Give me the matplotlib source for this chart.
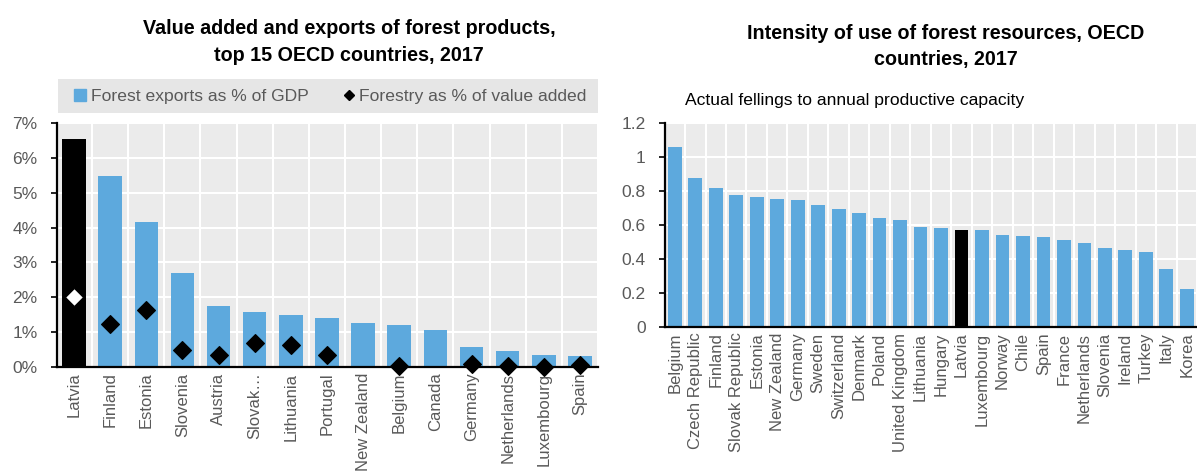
import matplotlib
matplotlib.use("Agg")
import matplotlib.pyplot as plt
from matplotlib.patches import Rectangle
from matplotlib.lines import Line2D
import numpy as np

# ---- data: value added and exports of forest products ----
left_countries = ["Latvia", "Finland", "Estonia", "Slovenia", "Austria", "Slovak\u2026",
                  "Lithuania", "Portugal", "New Zealand", "Belgium", "Canada",
                  "Germany", "Netherlands", "Luxembourg", "Spain"]
forest_exports_pct_gdp = [6.54, 5.47, 4.15, 2.71, 1.75, 1.59, 1.49, 1.42, 1.27,
                          1.20, 1.06, 0.57, 0.45, 0.35, 0.32]
forestry_pct_value_added = [2.02, 1.23, 1.63, 0.50, 0.34, 0.68, 0.62, 0.35, np.nan,
                            0.04, np.nan, 0.10, 0.02, 0.00, 0.05]

# ---- data: intensity of use of forest resources ----
right_countries = ["Belgium", "Czech Republic", "Finland", "Slovak Republic", "Estonia",
                   "New Zealand", "Germany", "Sweden", "Switzerland", "Denmark",
                   "Poland", "United Kingdom", "Lithuania", "Hungary", "Latvia",
                   "Luxembourg", "Norway", "Chile", "Spain", "France", "Netherlands",
                   "Slovenia", "Ireland", "Turkey", "Italy", "Korea"]
fellings_ratio = [1.057, 0.875, 0.816, 0.778, 0.763, 0.753, 0.749, 0.720, 0.694,
                  0.673, 0.643, 0.629, 0.590, 0.584, 0.573, 0.569, 0.539, 0.537,
                  0.529, 0.514, 0.496, 0.467, 0.455, 0.439, 0.343, 0.225]

highlight = "Latvia"

FONT = ["Liberation Sans Narrow", "Liberation Sans", "DejaVu Sans"]
BLUE = "#5DA9DD"
PANEL = "#EBEBEB"
GREY_TXT = "#595959"

plt.rcParams["font.family"] = FONT

W, H = 1197, 472
fig = plt.figure(figsize=(W / 100, H / 100), dpi=100)


def style_axes(ax, n, ypad):
    ax.set_facecolor(PANEL)
    for s in ("top", "right"):
        ax.spines[s].set_visible(False)
    for s in ("left", "bottom"):
        ax.spines[s].set_color("black")
        ax.spines[s].set_linewidth(1.6)
    ax.set_axisbelow(True)
    ax.yaxis.grid(True, color="white", linewidth=1.5)
    ax.set_xticks(np.arange(n) + 0.5, minor=True)
    ax.xaxis.grid(True, which="minor", color="white", linewidth=1.5)
    ax.tick_params(axis="x", which="both", length=0, labelsize=12,
                   labelcolor=GREY_TXT, pad=4)
    ax.tick_params(axis="y", length=4, width=1.2, color="black", direction="out",
                   labelsize=12.5, labelcolor=GREY_TXT, pad=ypad)


# ---------------- left panel ----------------
axL = fig.add_axes([57 / W, 1 - 367 / H, (598 - 57) / W, (367 - 123) / H])
nL = len(left_countries)
xL = np.arange(nL)
colorsL = ["black" if c == highlight else BLUE for c in left_countries]
axL.bar(xL, forest_exports_pct_gdp, width=0.65, color=colorsL, zorder=2)
for i, v in enumerate(forestry_pct_value_added):
    if np.isnan(v):
        continue
    fc = "white" if left_countries[i] == highlight else "black"
    axL.plot(i, v, marker="D", markersize=9, markerfacecolor=fc,
             markeredgecolor="black", markeredgewidth=0.8, linestyle="none",
             zorder=4, clip_on=False)
axL.set_xlim(-0.47, nL - 0.53)
axL.set_ylim(0, 7)
axL.set_yticks(np.arange(0, 8, 1))
axL.set_yticklabels([f"{t}%" for t in range(8)])
axL.set_xticks(xL)
axL.set_xticklabels(left_countries, rotation=90)
style_axes(axL, nL, ypad=10)

# legend band above the left panel
band = Rectangle((58 / W, 1 - 113 / H), (598 - 58) / W, (113 - 79) / H,
                 transform=fig.transFigure, facecolor="#E6E6E6", edgecolor="none")
fig.patches.append(band)
handles = [
    Line2D([], [], marker="s", linestyle="none", markersize=8.5,
           markerfacecolor=BLUE, markeredgecolor=BLUE),
    Line2D([], [], marker="D", linestyle="none", markersize=5.5,
           markerfacecolor="black", markeredgecolor="black"),
]
fig.legend(handles, ["Forest exports as % of GDP", "Forestry as % of value added"],
           loc="center", bbox_to_anchor=(331 / W, 1 - 96 / H), ncol=2,
           frameon=False, fontsize=12.6, handlelength=0.6, handletextpad=0.3,
           columnspacing=2.0, labelcolor=GREY_TXT)

fig.text(349 / W, 1 - 42 / H,
         "Value added and exports of forest products,\ntop 15 OECD countries, 2017",
         ha="center", va="center", fontsize=14.2, fontweight="bold",
         linespacing=1.5, color="black")

# ---------------- right panel ----------------
axR = fig.add_axes([665 / W, 1 - 327 / H, (W - 665) / W, (327 - 123) / H])
nR = len(right_countries)
xR = np.arange(nR)
colorsR = ["black" if c == highlight else BLUE for c in right_countries]
axR.bar(xR, fellings_ratio, width=0.67, color=colorsR, zorder=2)
axR.set_xlim(-0.48, nR - 0.6)
axR.set_ylim(0, 1.2)
yt = [0, 0.2, 0.4, 0.6, 0.8, 1.0, 1.2]
axR.set_yticks(yt)
axR.set_yticklabels(["0", "0.2", "0.4", "0.6", "0.8", "1", "1.2"])
axR.set_xticks(xR)
axR.set_xticklabels(right_countries, rotation=90)
style_axes(axR, nR, ypad=10)

fig.text(946 / W, 1 - 46.5 / H,
         "Intensity of use of forest resources, OECD\ncountries, 2017",
         ha="center", va="center", fontsize=14.2, fontweight="bold",
         linespacing=1.5, color="black")
fig.text(685 / W, 1 - 101 / H, "Actual fellings to annual productive capacity",
         ha="left", va="center", fontsize=12.6, color="black")

fig.savefig("out.png", dpi=100)
